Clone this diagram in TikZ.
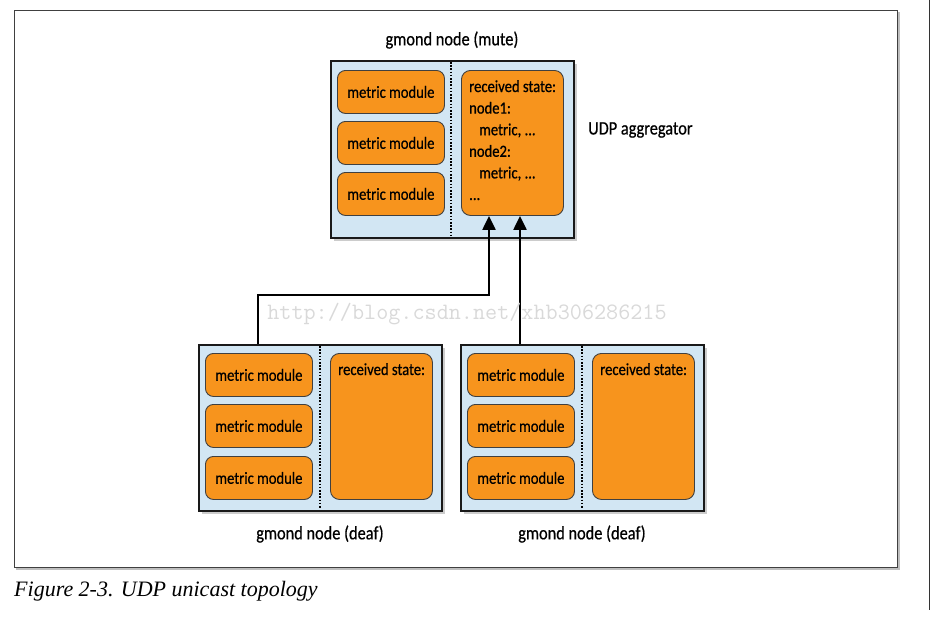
\documentclass[tikz,border=0pt]{standalone}
\usepackage{fontspec}
\setmainfont[FakeStretch=0.86,FakeBold=0.6]{Carlito}
\newfontfamily\capfont{Liberation Serif}
\usetikzlibrary{shadows,arrows.meta}
\definecolor{paleblue}{HTML}{D2E6F3}
\definecolor{modorange}{HTML}{F7941D}
\tikzset{
  container/.style={draw=black!90, line width=2pt, fill=paleblue, anchor=north west,
    minimum width=243pt, minimum height=#1, inner sep=0pt,
    drop shadow={shadow xshift=2.5pt, shadow yshift=-2.5pt, fill=black!40}},
  module/.style={draw=black!75, line width=0.9pt, fill=modorange, rounded corners=8pt,
    anchor=north west, minimum width=107pt, minimum height=43pt, inner sep=0pt,
    font=\fontsize{17}{20}\selectfont},
  recvbox/.style={draw=black!75, line width=0.9pt, fill=modorange, rounded corners=9pt,
    anchor=north west, minimum width=102pt, minimum height=145pt, inner sep=0pt},
  recvtext/.style={anchor=north west, align=left, inner sep=0pt,
    font=\fontsize{17}{21.6}\selectfont},
  divider/.style={black, line width=1.8pt, dash pattern=on 1.6pt off 1.6pt},
  lbl/.style={font=\fontsize{19}{22}\selectfont, inner sep=0pt},
  arr/.style={black, line width=2.2pt, -{Triangle[length=14pt, width=13pt]}},
}
\begin{document}
\begin{tikzpicture}[x=1pt, y=-1pt]
\useasboundingbox (0,0) rectangle (944,637);
% outer frame
\draw[black!25, line width=1.2pt] (899,12) -- (899,569) -- (16,569);
\node[draw=black!75, line width=0.9pt, anchor=north west, minimum width=883pt, minimum height=557pt, inner sep=0pt] (frame) at (14,10) {};
\draw[black!80, line width=1pt] (929,0) -- (929,610);
\node[anchor=west, inner sep=0pt, font=\capfont\itshape\fontsize{22}{24}\selectfont] (caption) at (14,591) {Figure 2-3. UDP unicast topology};

% top node
\node[container=177pt] (top) at (330,60) {};
\draw[divider] (451,62) -- (451,235);
\node[module] (tm1) at (337,70) {metric module};
\node[module] (tm2) at (337,121) {metric module};
\node[module] (tm3) at (337,172) {metric module};
\node[recvbox] (trecv) at (461,70) {};
\node[recvtext] (trecvtxt) at (469,80) {received state:\\node1:\\\hspace*{10pt}metric, ...\\node2:\\\hspace*{10pt}metric, ...\\...};
\node[lbl] (toplbl) at (452,40) {gmond node (mute)};
\node[lbl, anchor=west] (agglbl) at (588,130) {UDP aggregator};

% bottom left node
\node[container=166pt] (bl) at (198,344) {};
\draw[divider] (320,346) -- (320,508);
\node[module] (bm1) at (205,353) {metric module};
\node[module] (bm2) at (205,404) {metric module};
\node[module] (bm3) at (205,456) {metric module};
\node[recvbox, minimum height=146pt] (brecv) at (330,353) {};
\node[recvtext] (brecvtxt) at (338,363) {received state:};
\node[lbl] (bllbl) at (320,534) {gmond node (deaf)};

% bottom right node
\node[container=166pt] (br) at (460,344) {};
\draw[divider] (582,346) -- (582,508);
\node[module] (cm1) at (467,353) {metric module};
\node[module] (cm2) at (467,404) {metric module};
\node[module] (cm3) at (467,456) {metric module};
\node[recvbox, minimum height=146pt] (crecv) at (592,353) {};
\node[recvtext] (crecvtxt) at (600,363) {received state:};
\node[lbl] (brlbl) at (582,534) {gmond node (deaf)};

% connectors
\coordinate (bend) at (489,295);
\draw[arr] ([xshift=60pt]bl.north west) |- (bend) -- ([xshift=28pt]trecv.south west);
\draw[arr] ([xshift=60pt]br.north west) -- ([xshift=59pt]trecv.south west);

% watermark
\node[inner sep=0pt, text=black!15, font=\ttfamily\fontsize{23.5}{24}\selectfont] (wm) at (467,314) {http://blog.csdn.net/xhb306286215};
\end{tikzpicture}
\end{document}
